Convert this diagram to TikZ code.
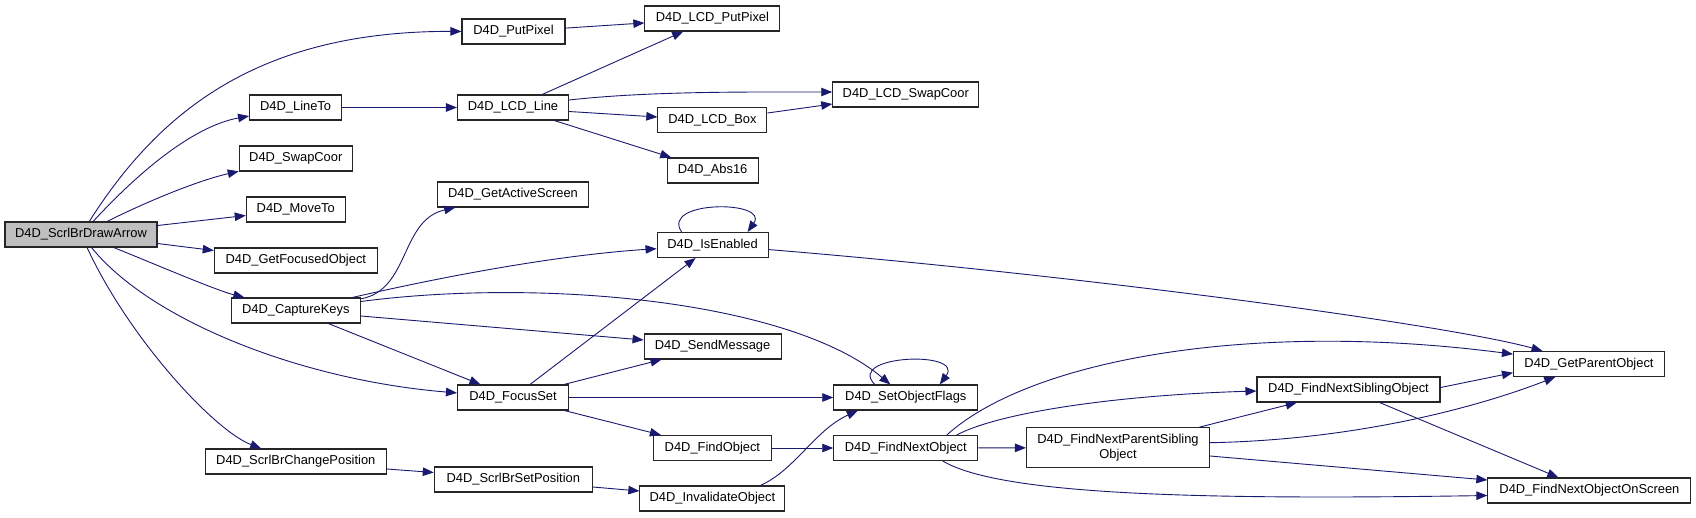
\documentclass[tikz,border=0pt]{standalone}
\usepackage{fontspec}
\setmainfont{Liberation Sans}
\usepackage{xcolor}
\usetikzlibrary{arrows.meta, calc, positioning}
\definecolor{edgeblue}{RGB}{25,25,112}

\begin{document}
\begin{tikzpicture}[x=1pt, y=-1pt,
  fn/.style={draw=black!85, line width=1.1pt, fill=white, minimum height=25pt, inner sep=0pt,
    align=center, font=\fontsize{12.9}{15}\selectfont},
  call/.style={draw=edgeblue, line width=0.9pt, -{Triangle[length=11pt, width=8.5pt]}}]
\useasboundingbox (0,0) rectangle (1696,517);
\fill[white] (0,0) rectangle (1696,517);

% column 0 / 1
\node[fn, fill=black!25, minimum width=152pt] (nDraw) at (81,234.5) {D4D\_ScrlBrDrawArrow};
\node[fn, minimum width=92pt] (nLineTo) at (295.6,107.5) {D4D\_LineTo};
\node[fn, minimum width=113pt] (nSwap) at (295.8,158.5) {D4D\_SwapCoor};
\node[fn, minimum width=99pt] (nMoveTo) at (295.8,209.5) {D4D\_MoveTo};
\node[fn, minimum width=163pt] (nFocused) at (295.8,260.5) {D4D\_GetFocusedObject};
\node[fn, minimum width=129pt] (nCapture) at (295.8,310.5) {D4D\_CaptureKeys};
\node[fn, minimum width=181pt] (nChange) at (295.8,461.5) {D4D\_ScrlBrChangePosition};
% column 2
\node[fn, minimum width=103pt] (nPut) at (513.5,31.5) {D4D\_PutPixel};
\node[fn, minimum width=111pt] (nLCDLine) at (513,107.5) {D4D\_LCD\_Line};
\node[fn, minimum width=151pt] (nActive) at (513,194.5) {D4D\_GetActiveScreen};
\node[fn, minimum width=111pt] (nFocusSet) at (513,397.5) {D4D\_FocusSet};
\node[fn, minimum width=158pt] (nSetPos) at (513.3,479.5) {D4D\_ScrlBrSetPosition};
% column 3
\node[fn, minimum width=135pt] (nLCDPut) at (712.4,18.5) {D4D\_LCD\_PutPixel};
\node[fn, minimum width=109pt] (nLCDBox) at (712.4,120) {D4D\_LCD\_Box};
\node[fn, minimum width=91pt] (nAbs) at (712.6,170.5) {D4D\_Abs16};
\node[fn, minimum width=111pt] (nEnabled) at (712.6,245) {D4D\_IsEnabled};
\node[fn, minimum width=137pt] (nSend) at (712.6,346.5) {D4D\_SendMessage};
\node[fn, minimum width=118pt] (nFind) at (712.4,448) {D4D\_FindObject};
\node[fn, minimum width=145pt] (nInval) at (712.4,498.5) {D4D\_InvalidateObject};
% column 4 and beyond
\node[fn, minimum width=146pt] (nLCDSwap) at (905.8,94.5) {D4D\_LCD\_SwapCoor};
\node[fn, minimum width=144pt] (nFlags) at (905.8,397.5) {D4D\_SetObjectFlags};
\node[fn, minimum width=144pt] (nNext) at (905.8,448) {D4D\_FindNextObject};
\node[fn, minimum width=183pt, minimum height=40pt] (nParentSib) at (1118,447.7) {D4D\_FindNextParentSibling\\Object};
\node[fn, minimum width=183pt] (nSibling) at (1348.5,389.5) {D4D\_FindNextSiblingObject};
\node[fn, minimum width=151pt] (nParent) at (1589,364) {D4D\_GetParentObject};
\node[fn, minimum width=203pt] (nOnScreen) at (1589.4,490.5) {D4D\_FindNextObjectOnScreen};

% calls of D4D_ScrlBrDrawArrow
\draw[call] (nDraw) .. controls (160,110) and (260,31) .. (nPut);
\draw[call] (nDraw) .. controls (150,160) and (200,125) .. (nLineTo);
\draw[call] (nDraw) .. controls (150,200) and (200,180) .. (nSwap);
\draw[call] ([yshift=9pt]nDraw.east) -- ([yshift=-6pt]nMoveTo.west);
\draw[call] ([yshift=-9pt]nDraw.east) -- ([yshift=10pt]nFocused.west);
\draw[call] (nDraw) .. controls (150,262) and (215,290) .. (nCapture);
\draw[call] (nDraw) .. controls (150,320) and (300,380) .. (nFocusSet);
\draw[call] (nDraw) .. controls (130,340) and (215,431) .. (nChange);

% drawing primitives
\draw[call] (nPut) -- (nLCDPut);
\draw[call] (nLineTo) -- (nLCDLine);
\draw[call] (nLCDLine) -- (nLCDPut);
\draw[call] ([yshift=7.5pt]nLCDLine.east) .. controls (650,91) and (750,92) .. ([yshift=2.5pt]nLCDSwap.west);
\draw[call] ([yshift=-4pt]nLCDLine.east) -- ([yshift=3pt]nLCDBox.west);
\draw[call] (nLCDLine) -- (nAbs);
\draw[call] ([yshift=7pt]nLCDBox.east) -- ([yshift=-9.5pt]nLCDSwap.west);

% D4D_CaptureKeys
\draw[call] (nCapture) .. controls (410,290) and (400,220) .. (nActive);
\draw[call] (nCapture) .. controls (450,275) and (560,255) .. (nEnabled);
\draw[call] ([yshift=9pt]nCapture.east) .. controls (540,278) and (790,300) .. (nFlags);
\draw[call] ([yshift=-5.5pt]nCapture.east) -- ([yshift=6.5pt]nSend.west);
\draw[call] (nCapture) -- (nFocusSet);

% D4D_IsEnabled
\draw[call] ([xshift=-31pt]nEnabled.north) .. controls (660,200) and (770,200) .. ([xshift=35pt]nEnabled.north);
\draw[call] (nEnabled) .. controls (1080,275) and (1450,325) .. (nParent);

% D4D_FocusSet
\draw[call] (nFocusSet) -- (nEnabled);
\draw[call] (nFocusSet) -- (nSend);
\draw[call] (nFocusSet) -- (nFlags);
\draw[call] (nFocusSet) -- (nFind);

% object search
\draw[call] ([xshift=-31pt]nFlags.north) .. controls (845,355) and (965,350) .. ([xshift=34pt]nFlags.north);
\draw[call] (nFind) -- (nNext);
\draw[call] ([xshift=41pt]nNext.north) .. controls (1030,360) and (1250,320) .. (nParent);
\draw[call] ([xshift=51pt]nNext.north) .. controls (1000,412) and (1120,395) .. ([yshift=-1.5pt]nSibling.west);
\draw[call] (nNext) -- (nParentSib);
\draw[call] ([xshift=37pt]nNext.south) .. controls (1000,495) and (1200,500) .. ([yshift=-5pt]nOnScreen.west);
\draw[call] ([yshift=2pt]nSibling.east) -- ([yshift=-8.7pt]nParent.west);
\draw[call] (nSibling) -- (nOnScreen);
\draw[call] (nParentSib) -- (nSibling);
\draw[call] ([yshift=5pt]nParentSib.east) .. controls (1350,440) and (1470,410) .. (nParent);
\draw[call] ([yshift=-8.3pt]nParentSib.east) -- ([yshift=10.5pt]nOnScreen.west);

% scroll bar position
\draw[call] ([yshift=-7.5pt]nChange.east) -- ([yshift=7pt]nSetPos.west);
\draw[call] ([yshift=-7.5pt]nSetPos.east) -- ([yshift=7.5pt]nInval.west);
\draw[call] ([xshift=48pt]nInval.north) .. controls (795,470) and (815,430) .. ([xshift=-48pt]nFlags.south);
\end{tikzpicture}
\end{document}
